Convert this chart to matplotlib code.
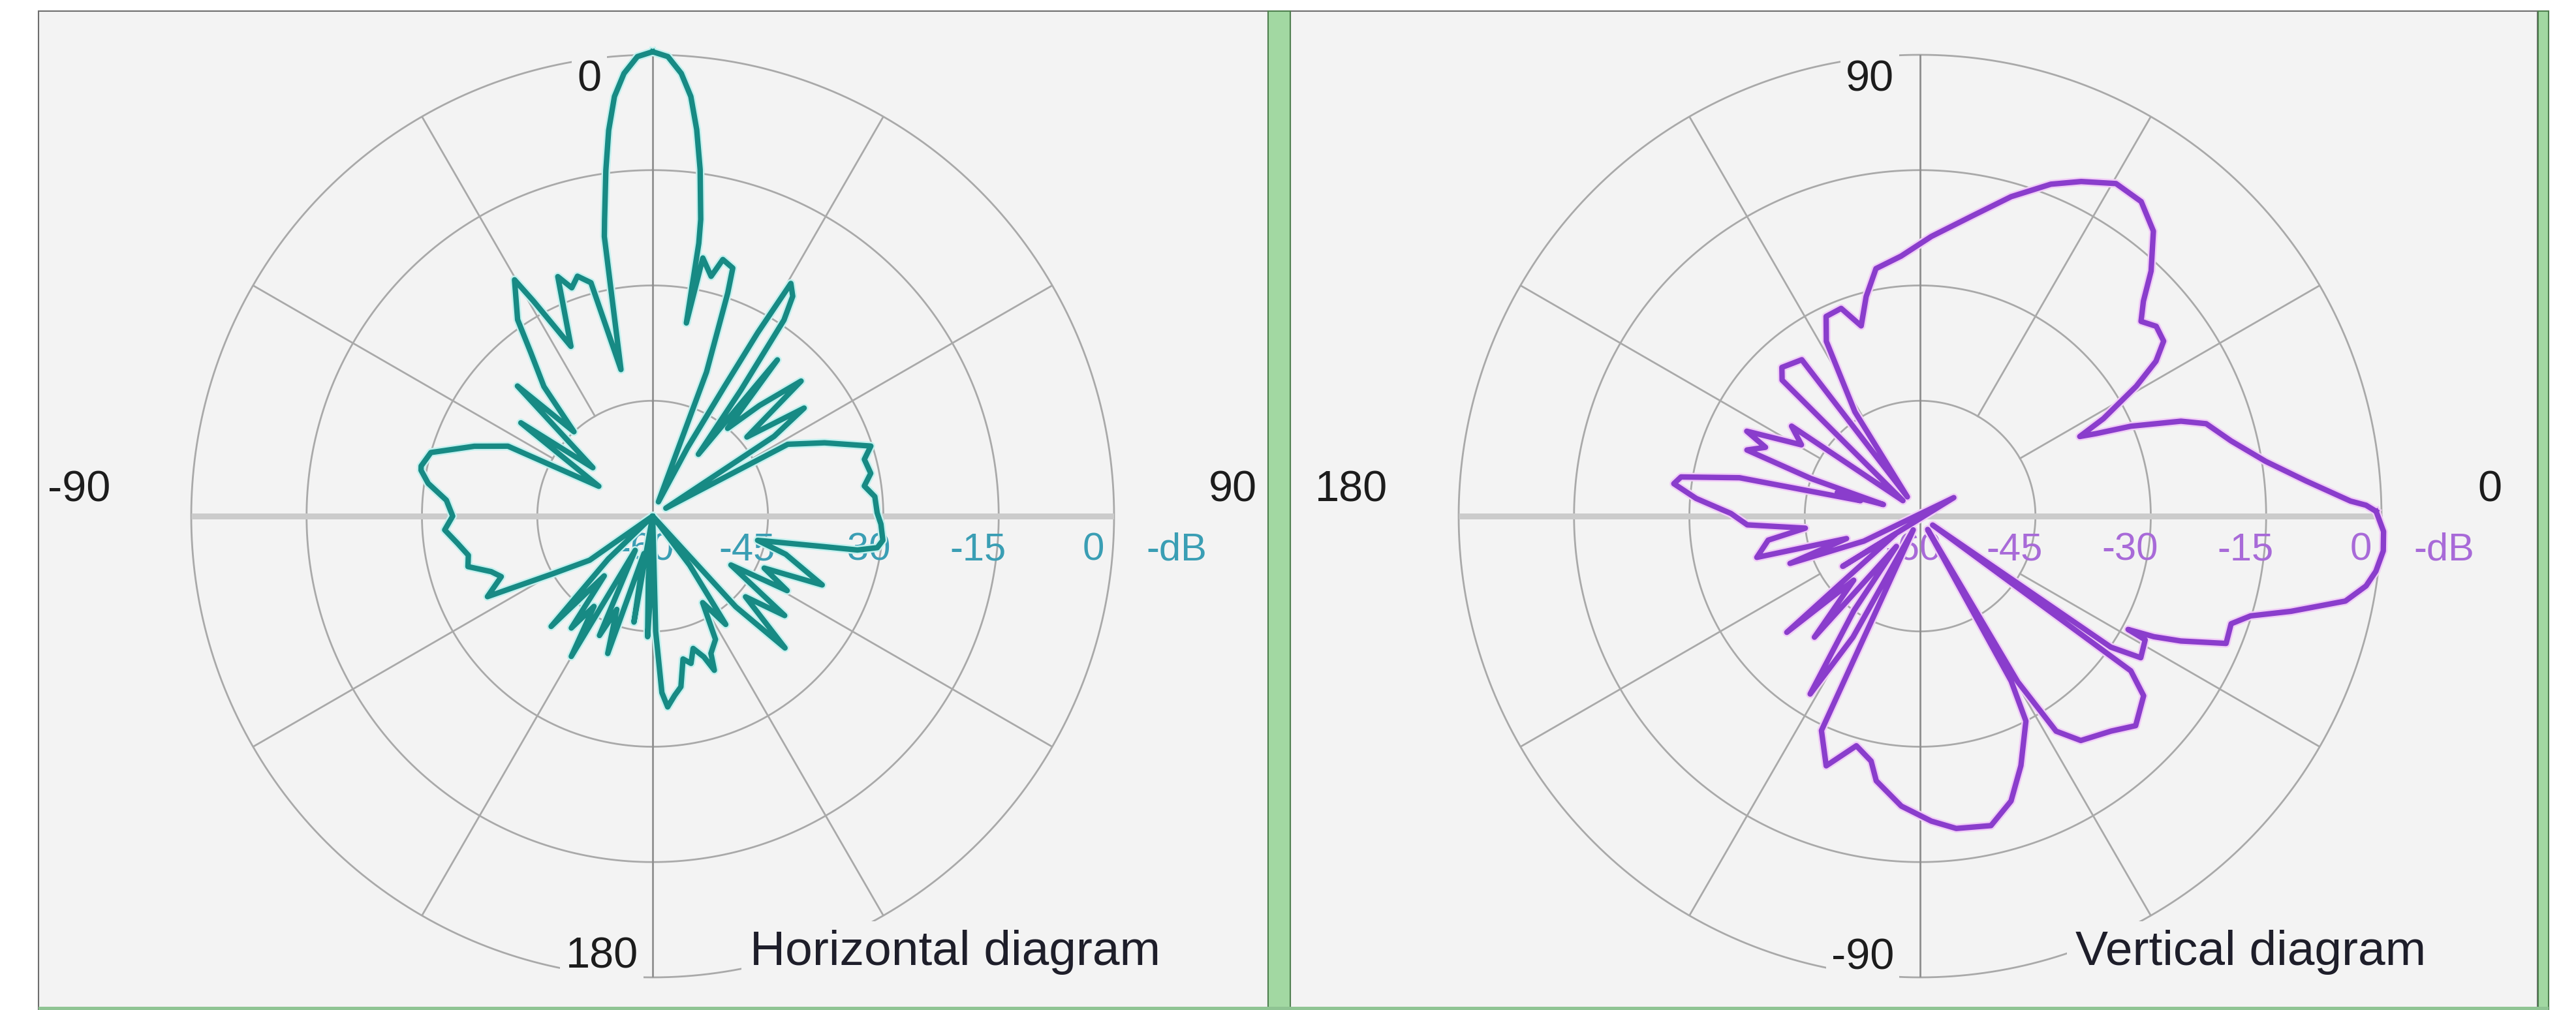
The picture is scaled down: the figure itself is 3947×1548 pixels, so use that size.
import numpy as np
import matplotlib
matplotlib.use("Agg")
import matplotlib.pyplot as plt
from matplotlib.patches import Rectangle
from matplotlib import font_manager

W, H = 3947, 1548

# horizontal diagram: angle in degrees, 0 at top, clockwise; level in dB
h_theta = [0, 1.9, 3.7, 5.2, 6.5, 7.8, 9.2, 9.6, 9.9, 11.0, 13.7, 15.3, 17.9, 18.6, 20.5, 22, 27,
           29, 29.8, 30.7, 32.5, 33.8, 35, 36.5, 38.6, 40.5, 44, 47.7, 50, 54.5, 56.7, 59,
           62.0, 66.9, 72.2, 75, 78.9, 81.9, 85, 89.2, 92, 96, 98, 99.4, 100.1, 103, 106,
           112.1, 115, 119, 122, 127, 131, 134.9, 137.5, 140, 143, 146, 150, 153, 157, 158.2,
           160, 163, 165.4, 168, 170.6, 173, 175.5, 177, 178.5, 179.5, 181, 182.4, 184, 186,
           190, 193, 198.1, 201, 204, 207, 210.1, 213, 216, 219, 222.6, 226, 230, 235, 240,
           244, 248.2, 251, 254.7, 258, 262, 266.2, 270, 274.4, 278.3, 281.2, 282.2, 286,
           291.4, 295.8, 299, 305.3, 309, 313.9, 317, 320, 323.3, 325.5, 329.7, 331, 334.3,
           338.4, 340.5, 342.6, 345.2, 347.8, 350.2, 350.8, 352.3, 353.5, 354.8, 356.3, 358.1]
h_db = [0.4, -0.2, -2.3, -5.2, -9.4, -14.5, -20.9, -24.0, -34.5, -25.8, -27.9, -25.4, -26.1, -29.4, -40, -58, -50,
        -40.7, -32.5, -24.8, -26.1, -29.3, -40, -50, -34.0, -45, -40, -33.9, -44, -35.8, -41.1, -58,
        -40.1, -35.7, -30.2, -31.5, -31.1, -32.2, -31.0, -30.8, -30.3, -29.9, -30.5, -33.0, -37.3, -46, -42,
        -36.2, -44, -40, -48, -38.5, -44, -35.7, -44, -60, -52, -43, -47, -42, -40.6, -38.4,
        -40.5, -42, -40.2, -41, -37.5, -36.5, -35.1, -37, -45, -60, -52, -44.3, -52, -60,
        -46, -55, -41.2, -47, -43, -55, -38.9, -46, -42, -50, -40.5, -52, -60, -50, -45,
        -36.1, -38.8, -37.8, -35.1, -35.5, -34.4, -32.9, -34.0, -33.1, -30.5, -29.3, -29.2, -30.0,
        -35.1, -39.1, -52, -39, -50, -35.6, -45, -38, -33.5, -29, -24.4, -28, -35.5,
        -26.5, -28.5, -27.3, -28.6, -40.5, -23.1, -20.9, -14.6, -9.5, -5.2, -2.3, -0.2]

# vertical diagram: angle in degrees, 0 at right, counter-clockwise; level in dB
v_theta = [0.6, 1.4, 2.0, 5.2, 9.0, 13.6, 17.9, 20.0, 23.1, 25.1, 26.5, 28.0, 31.0, 33.3, 35.7,
           38.8, 41.4, 43.9, 46.7, 50.7, 54.9, 59.5, 64.3, 68.5, 74.1, 80.4, 87.7, 94.2, 100.1,
           103.8, 107.2, 110.8, 115.2, 118.2, 122, 123.5, 127.1, 132.9, 135.4, 138, 145, 149,
           153.9, 156, 159.1, 161, 162.5, 164.1, 165.5, 168, 170.7, 172.5, 175.5, 179.2, 182.9,
           186, 189, 194.2, 197, 200, 204, 208.7, 213, 216, 221.1, 224, 228.9, 232, 235, 238.3,
           241, 243.5, 245.3, 249.4, 254.5, 258.7, 260.6, 266.3, 272.1, 276.6, 282.9, 287.7,
           292.0, 297.3, 298.9, 299.5, 300.5, 302.3, 305.6, 311.6, 315.8, 321.2, 323.7, 324.5,
           325.5, 327.3, 331.2, 331.4, 332.7, 334.4, 337.4, 340.9, 343.2, 345.6, 348.7, 351.1,
           353.1, 355.7, 358.1]
v_db = [-0.7, -2.0, -4.0, -9.6, -14.5, -18.4, -20.9, -23.9, -30.2, -34.7, -36.8, -33.0, -27.2, -23.3, -21.0,
        -20.6, -21.7, -19.7, -16.2, -12.1, -10.0, -9.8, -11.7, -13.6, -16.8, -20.5, -23.6, -26.1, -27.3,
        -30.6, -34.1, -31.1, -31.3, -34.2, -44, -57, -34.5, -33.6, -34.8, -57, -39.6, -42,
        -34.9, -38, -35.9, -45, -55, -48.8, -52, -36, -28.5, -27.7, -30.8, -35.4, -37.5,
        -45, -40, -38.1, -50, -42, -52, -65, -48, -56, -37, -48, -39.1, -55, -45, -32.8,
        -42, -58, -29.3, -25.3, -29.0, -27.5, -25.1, -22.2, -20.3, -19.1, -18.7, -21.1,
        -25.0, -30.0, -35.5, -58, -35, -26.9, -24.1, -22.6, -20.9, -22.7, -26, -58,
        -29.9, -25.9, -26.6, -29.2, -25.8, -22.4, -16.9, -17.2, -15.1, -10.2, -3.6, -1.3,
        -0.3, 0.4, 0.3]

db_rings = [-45, -30, -15, 0]
db_labels = ["-60", "-45", "-30", "-15", "0", "-dB"]
spoke_angles = [30, 60, 120, 150, 210, 240, 300, 330]
FLOOR = -60

names = {f.name for f in font_manager.fontManager.ttflist}
if "Liberation Sans Narrow" in names:
    narrow, ang_size, title_size = "Liberation Sans Narrow", 56, 65
else:
    narrow, ang_size, title_size = "Liberation Sans", 48, 54
regular = "Liberation Sans"

panel_bg = "#f3f3f3"
grid_c = "#a9a9a9"

fig = plt.figure(figsize=(W / 100, H / 100), dpi=100)
fig.patch.set_facecolor("white")

# background frame (pixel coordinates)
bg = fig.add_axes([0, 0, 1, 1], zorder=-1)
bg.set_xlim(0, W)
bg.set_ylim(H, 0)
bg.axis("off")
bg.add_patch(Rectangle((59, 17), 1884, 1540, fc=panel_bg, ec="#6e6e6e", lw=1.5))
bg.add_patch(Rectangle((1977, 17), 1911, 1540, fc=panel_bg, ec="#6e6e6e", lw=1.5))
bg.add_patch(Rectangle((1943, 17), 34, 1540, fc="#a2d8a2", ec="#4f7f4f", lw=1.5))
bg.add_patch(Rectangle((3889, 17), 16, 1540, fc="#a2d8a2", ec="#4f7f4f", lw=1.5))
bg.add_patch(Rectangle((59, 1543), 3846, 6, fc="#8fc493", ec="none"))


def px(x, y):
    return x / W, 1 - y / H


def to_polar(theta_deg, db):
    th = np.radians(np.asarray(theta_deg, float))
    r = np.asarray(db, float)
    below = r < FLOOR
    # levels under the floor are drawn through the centre, as the original tool does
    th = np.where(below, th + np.pi, th)
    r = np.where(below, 2 * FLOOR - r, r)
    return np.append(th, th[0]), np.append(r, r[0])


def make_polar(cx, zero, direction, horiz, vert):
    R = 707
    ax = fig.add_axes([(cx - R) / W, (H - 791 - R) / H, 2 * R / W, 2 * R / H],
                      projection="polar")
    ax.set_theta_zero_location(zero)
    ax.set_theta_direction(direction)
    ax.set_ylim(FLOOR, 0)
    ax.set_xticks([])
    ax.set_yticks([])
    ax.grid(False)
    ax.spines["polar"].set_visible(False)
    ax.patch.set_visible(False)

    ring_t = np.linspace(0, 2 * np.pi, 721)
    for r in db_rings:
        ax.plot(ring_t, np.full_like(ring_t, r), color=grid_c, lw=2.0, zorder=1, clip_on=False)
    for a in spoke_angles:
        ax.plot(np.radians([a, a]), [-45, 0], color=grid_c, lw=2.0, zorder=1)
    for a in horiz:
        ax.plot(np.radians([a, a]), [FLOOR, 0], color="#cbcbcb", lw=6.5, zorder=1.1,
                solid_capstyle="butt")
    for a in vert:
        ax.plot(np.radians([a, a]), [FLOOR, 0], color="#8e8e8e", lw=2.0, zorder=1.2)
    return ax


def db_text(ax, cx, color):
    R = 707
    xs = [cx - 10] + [cx + (v - FLOOR) * R / 60 - 32 for v in db_rings] + [cx + R + 96]
    for s, x in zip(db_labels, xs):
        ax.text(*px(x, 843), s, transform=fig.transFigure, ha="center", va="center",
                fontsize=43, family=regular, color=color, zorder=2)


box = dict(boxstyle="square,pad=0.12", fc=panel_bg, ec="none")

# horizontal diagram
axh = make_polar(1000, "N", -1, horiz=[90, 270], vert=[0, 180])
db_text(axh, 1000, "#3a9eb4")
t, r = to_polar(h_theta, h_db)
axh.plot(t, r, color="#c4f1ef", lw=9.5, zorder=2.5, clip_on=False, solid_joinstyle="round")
axh.plot(t, r, color="#178a84", lw=6, zorder=3, clip_on=False, solid_joinstyle="round")

# vertical diagram
axv = make_polar(2942, "E", 1, horiz=[0, 180], vert=[90, 270])
db_text(axv, 2942, "#a86ad8")
t, r = to_polar(v_theta, v_db)
axv.plot(t, r, color="#f1cdf7", lw=9.5, zorder=2.5, clip_on=False, solid_joinstyle="round")
axv.plot(t, r, color="#8a3dcc", lw=6, zorder=3, clip_on=False, solid_joinstyle="round")

# angle labels
angle_labels = [("0", 903, 122), ("90", 1889, 751), ("-90", 121, 751), ("180", 922, 1466),
                ("90", 2865, 122), ("0", 3815, 751), ("180", 2071, 751), ("-90", 2854, 1468)]
for s, x, y in angle_labels:
    fig.text(*px(x, y), s, ha="center", va="center", fontsize=ang_size, family=narrow,
             color="#1c1c1c", bbox=box)

fig.text(*px(1149, 1479), "Horizontal diagram", ha="left", va="baseline",
         fontsize=title_size, family=narrow, color="#1e1e2a",
         bbox=dict(boxstyle="square,pad=0.18", fc=panel_bg, ec="none"))
fig.text(*px(3180, 1479), "Vertical diagram", ha="left", va="baseline",
         fontsize=title_size, family=narrow, color="#1e1e2a",
         bbox=dict(boxstyle="square,pad=0.18", fc=panel_bg, ec="none"))

fig.savefig("out.png", dpi=100, facecolor="white")
